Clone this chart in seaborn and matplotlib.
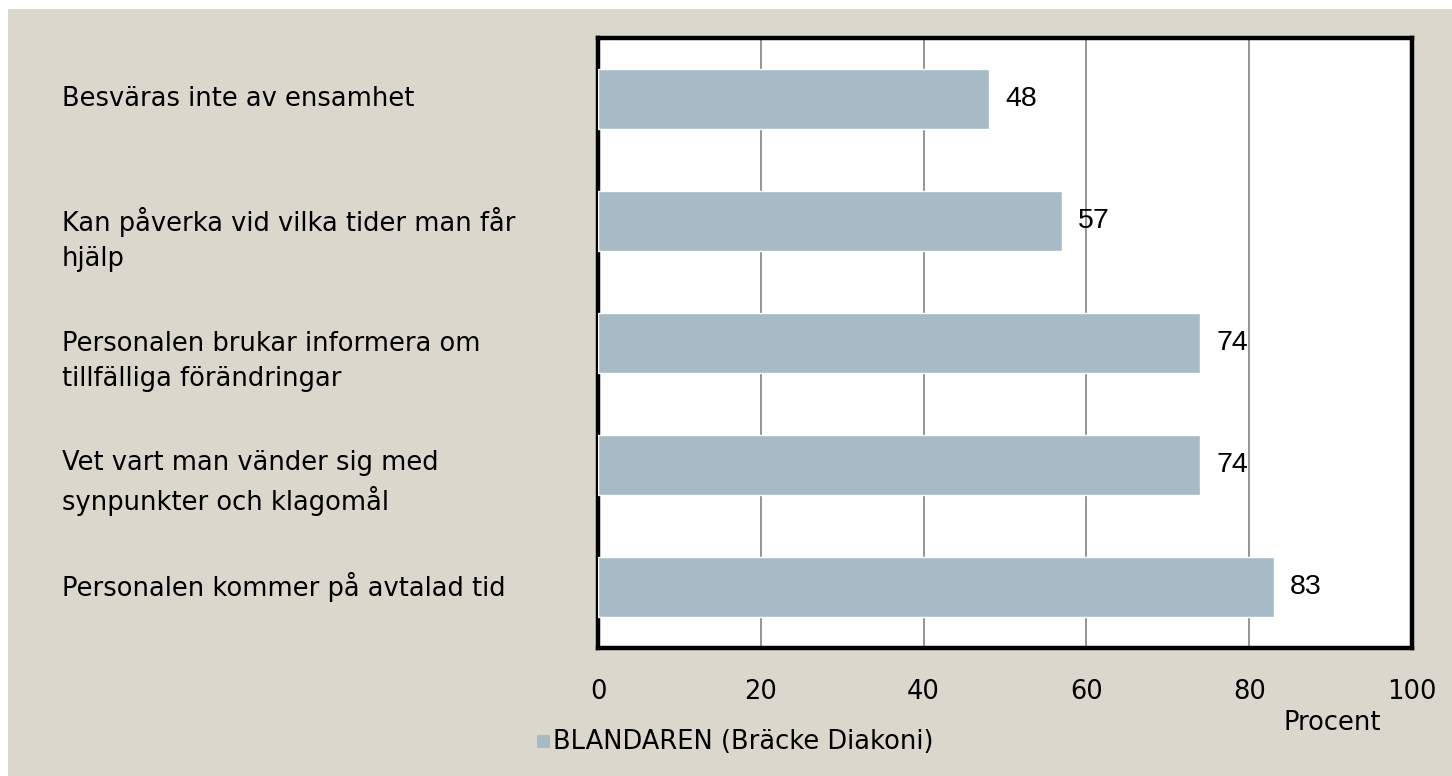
import numpy as np
import pandas as pd
import matplotlib.pyplot as plt
import matplotlib.transforms as mtransforms
from matplotlib.patches import Rectangle
import seaborn as sns

categories = [
    "Besväras inte av ensamhet",
    "Kan påverka vid vilka tider man får\nhjälp",
    "Personalen brukar informera om\ntillfälliga förändringar",
    "Vet vart man vänder sig med\nsynpunkter och klagomål",
    "Personalen kommer på avtalad tid",
]
values = [48, 57, 74, 74, 83]
series_name = "BLANDAREN (Bräcke Diakoni)"
x_ticks = [0, 20, 40, 60, 80, 100]
x_label = "Procent"

BG = "#DAD8CC"
BAR = "#A6BBC6"
LABEL_FONT = "DejaVu Sans"
VALUE_FONT = "Liberation Sans"

sns.set_theme(style="white")
plt.rcParams["font.family"] = [LABEL_FONT]
plt.rcParams["text.color"] = "black"

df = pd.DataFrame({"item": categories, "pct": values})

W, H = 1452, 776
fig = plt.figure(figsize=(W / 100, H / 100), dpi=100)
fig.patch.set_facecolor("white")
fig.patches.append(Rectangle((8 / W, 0), 1 - 8 / W, 1 - 9 / H, transform=fig.transFigure,
                             facecolor=BG, edgecolor="none", zorder=-10))

ax = fig.add_axes([598 / W, 1 - 648 / H, (1412 - 598) / W, (648 - 38) / H])
ax.set_facecolor("white")

sns.barplot(data=df, y="item", x="pct", orient="h", color=BAR, width=0.49,
            saturation=1, ax=ax, zorder=3)

ax.set_xlim(0, 100)
ax.set_ylim(4.5, -0.5)
ax.set_xticks(x_ticks)
ax.set_xticklabels([str(t) for t in x_ticks], fontsize=18.5, color="black")
ax.tick_params(axis="x", length=0, pad=22)
ax.set_yticks([])
ax.set_xlabel("")
ax.set_ylabel("")

ax.xaxis.grid(True, color="#8C8C8C", linewidth=1.3)
ax.set_axisbelow(True)
for s in ax.spines.values():
    s.set_visible(True)
    s.set_color("black")
    s.set_linewidth(3.2)

for i, v in enumerate(values):
    ax.text(v + 2, i, str(v), va="center", ha="left", fontsize=20.5,
            family=VALUE_FONT, color="black", zorder=4)

# category labels sit in the beige margin, first line level with the bar
trans = mtransforms.blended_transform_factory(fig.transFigure, ax.transData)
for i, lab in enumerate(categories):
    nlines = lab.count("\n") + 1
    ax.annotate(lab, xy=(62 / W, i), xycoords=trans, xytext=(0, -(nlines - 1) * 13),
                textcoords="offset points", ha="left", va="center", fontsize=18.5,
                linespacing=1.45, color="black", annotation_clip=False)

fig.text(1332 / W, 1 - 723 / H, x_label, ha="center", va="center", fontsize=18.5, color="black")
fig.patches.append(Rectangle((537 / W, 1 - 748 / H), 13 / W, 13 / H, transform=fig.transFigure,
                             facecolor=BAR, edgecolor="none"))
fig.text(553 / W, 1 - 742 / H, series_name, ha="left", va="center", fontsize=18.5, color="black")

fig.savefig("out.png", dpi=100, facecolor="white")
